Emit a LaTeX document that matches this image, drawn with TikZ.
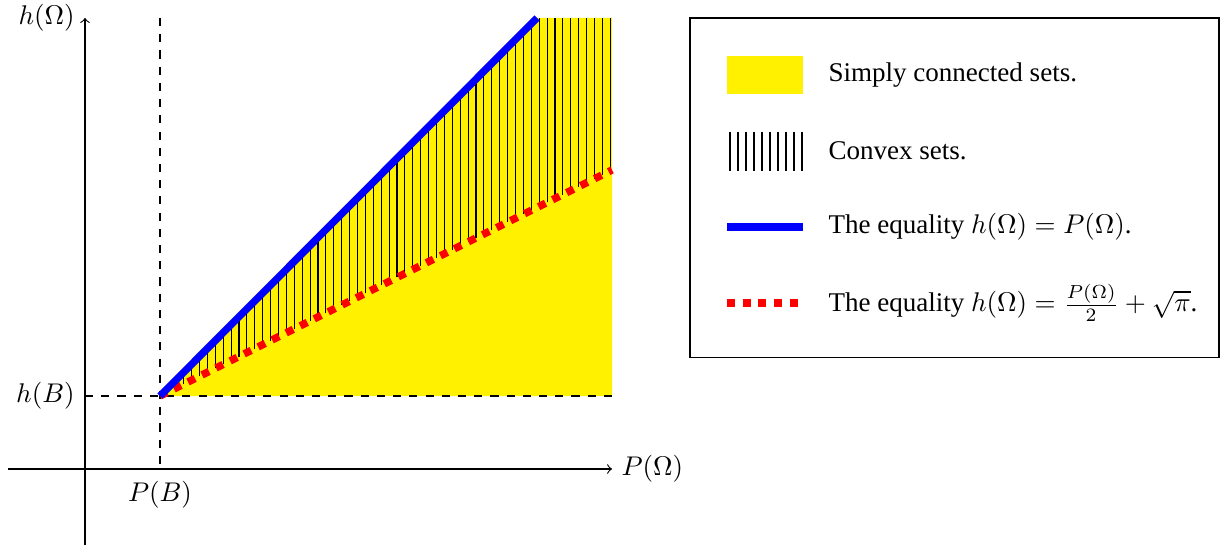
\documentclass[tikz,border=0pt]{standalone}
\usepackage{fontspec}
\setmainfont{Liberation Serif}
\definecolor{fillyellow}{RGB}{255,241,0}
\begin{document}
\begin{tikzpicture}[x={(0.37pt,0)},y={(0,-0.37pt)},
  axis/.style={->,line width=0.4pt},
  guide/.style={dashed,line width=0.4pt},
  bluel/.style={blue,line width=2.7pt},
  redl/.style={red,line width=2.8pt,dash pattern=on 2.9pt off 2.9pt},
  hatch/.style={black,line width=0.4pt},
  lbl/.style={inner sep=3.33pt},
  legtext/.style={anchor=west,inner sep=0pt}]
\useasboundingbox (0,0) rectangle (1220,547);
% coordinates
\coordinate (yb) at (85,545);
\coordinate (yt) at (85,18);
\coordinate (xl) at (8,469);
\coordinate (xr) at (612,469);
\coordinate (B) at (160,396);
\coordinate (Btop) at (160,18);
\coordinate (Bbot) at (160,469);
\coordinate (hB) at (85,396);
\coordinate (hBr) at (612,396);
\coordinate (Bl) at (537,18);
\coordinate (Rl) at (612,170);
\coordinate (TR) at (612,18);
% yellow region
\fill[fillyellow] (B) -- (hBr) -- (TR) -- (Bl) -- cycle;
% hatching
\foreach \i in {1,...,57} {
  \pgfmathsetmacro\xx{160+7.9*\i}
  \pgfmathsetmacro\yr{396-0.5*(\xx-160)}
  \pgfmathsetmacro\yy{max(18,396-(\xx-160))}
  \draw[hatch] (\xx,\yr) -- (\xx,\yy);
}
% guides
\draw[guide] (Btop) -- (Bbot);
\draw[guide] (hB) -- (hBr);
% axes
\draw[axis] (yb) -- (yt);
\draw[axis] (xl) -- (xr);
% curves
\draw[redl] (B) -- (Rl);
\draw[bluel] (B) -- (Bl);
% labels
\node[lbl,anchor=east,xshift=-0.3pt] (lh) at (yt) {$h(\Omega)$};
\node[lbl,anchor=east,xshift=-0.3pt] (lhB) at (hB) {$h(B)$};
\node[lbl,anchor=north,yshift=-1pt] (lPB) at (Bbot) {$P(B)$};
\node[lbl,anchor=west] (lP) at (xr) {$P(\Omega)$};
% legend
\draw[line width=0.4pt] (690,18) rectangle (1219,357.5);
\fill[fillyellow] (727,56) rectangle (803,94);
\foreach \k in {0,...,9} {
  \draw[hatch] (730+8*\k,132) -- (730+8*\k,171);
}
\coordinate (bl1) at (727,227);
\coordinate (bl2) at (803,227);
\draw[bluel] (bl1) -- (bl2);
\coordinate (rl1) at (727,303);
\coordinate (rl2) at (803,303);
\draw[redl] (rl1) -- (rl2);
\node[legtext] (t1) at (828,75) {Simply connected sets.};
\node[legtext] (t2) at (828,151) {Convex sets.};
\node[legtext] (t3) at (828,227) {The equality $h(\Omega)=P(\Omega)$.};
\node[legtext] (t4) at (828,303) {The equality $h(\Omega)=\frac{P(\Omega)}{2}+\sqrt{\pi}$.};
\end{tikzpicture}
\end{document}
